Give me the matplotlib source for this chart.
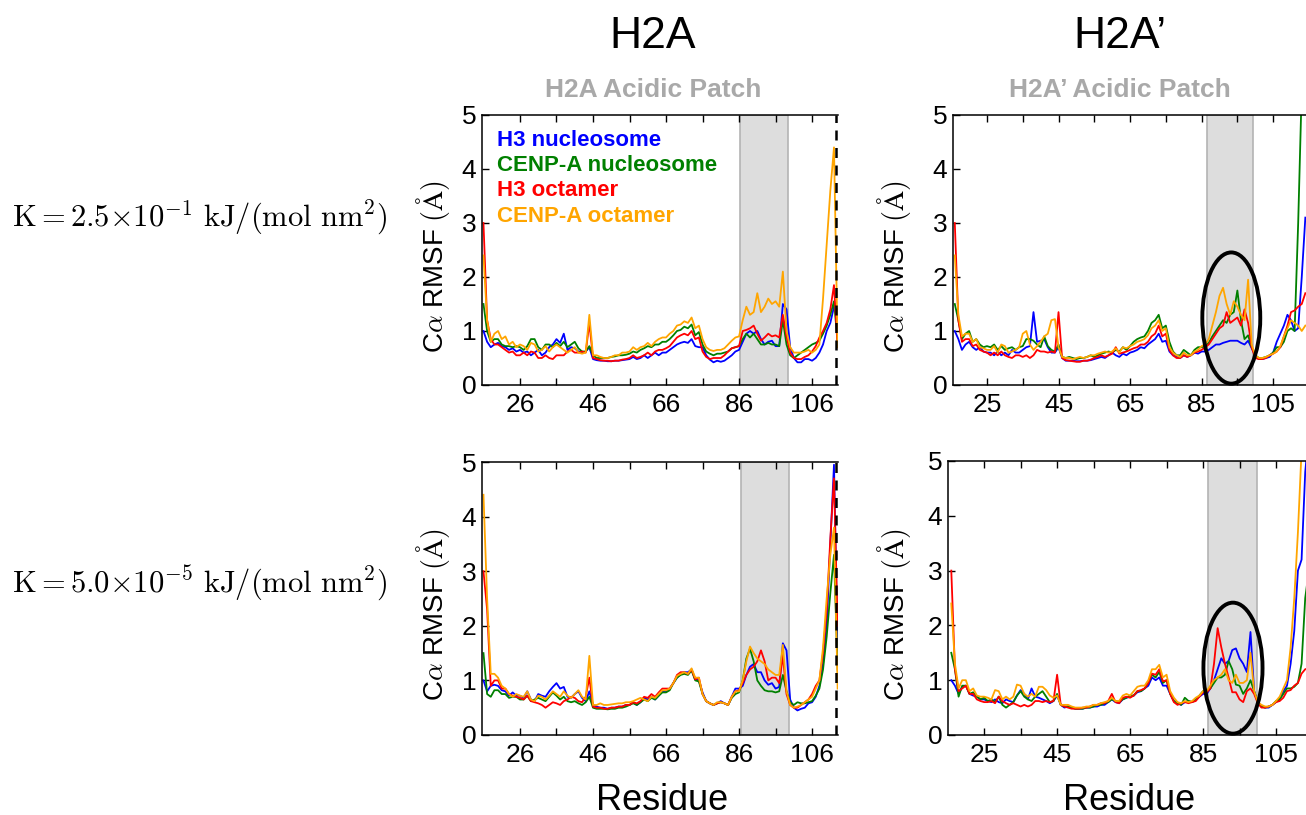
import matplotlib
matplotlib.use("Agg")
import matplotlib.pyplot as plt
from matplotlib.patches import Ellipse

plt.rcParams['font.family'] = ['Liberation Sans', 'DejaVu Sans']
plt.rcParams['mathtext.fontset'] = 'cm'

# residue numbers
res_h2a = list(range(16, 114))    # 16..113
res_h2ap = list(range(16, 115))   # 16..114

series_names = ["H3 nucleosome", "CENP-A nucleosome", "H3 octamer", "CENP-A octamer"]
series_colors = ["#0000ff", "#008000", "#ff0000", "#ffa500"]

# ---- H2A, K = 2.5e-1 ----
h2a_k1_h3nuc = [1.0, 0.8, 0.7, 0.75, 0.78, 0.72, 0.7, 0.65, 0.68, 0.62,
                0.65, 0.6, 0.62, 0.55, 0.6, 0.65, 0.55, 0.6, 0.7, 0.75,
                0.85, 0.78, 0.95, 0.65, 0.7, 0.68, 0.62, 0.6, 0.62, 0.7,
                0.48, 0.46, 0.45, 0.45, 0.44, 0.44, 0.45, 0.45, 0.46, 0.47,
                0.48, 0.52, 0.48, 0.5, 0.55, 0.5, 0.55, 0.6, 0.55, 0.6,
                0.6, 0.65, 0.7, 0.75, 0.78, 0.8, 0.78, 0.85, 0.72, 0.7,
                0.7, 0.55, 0.47, 0.42, 0.45, 0.43, 0.45, 0.5, 0.55, 0.62,
                0.65, 0.8, 0.95, 1.0, 0.95, 1.0, 0.85, 0.75, 0.8, 0.82,
                0.72, 0.72, 1.5, 1.4, 0.7, 0.5, 0.42, 0.42, 0.48, 0.48,
                0.45, 0.5, 0.6, 0.75, 1.0, 1.15, 1.45, 1.4]
h2a_k1_cenpnuc = [1.5, 1.0, 0.8, 0.85, 0.85, 0.75, 0.72, 0.72, 0.7, 0.72,
                  0.7, 0.65, 0.72, 0.85, 0.85, 0.7, 0.65, 0.75, 0.75, 0.7,
                  0.78, 0.72, 0.8, 0.7, 0.75, 0.8, 0.68, 0.62, 0.62, 0.72,
                  0.55, 0.5, 0.5, 0.5, 0.5, 0.52, 0.53, 0.55, 0.55, 0.56,
                  0.58, 0.62, 0.6, 0.65, 0.68, 0.72, 0.7, 0.75, 0.75, 0.8,
                  0.8, 0.85, 0.92, 1.0, 1.02, 1.08, 1.05, 1.12, 0.92, 0.98,
                  0.75, 0.62, 0.58, 0.55, 0.58, 0.58, 0.6, 0.62, 0.68, 0.7,
                  0.72, 0.85, 0.95, 0.88, 0.95, 0.85, 0.75, 0.75, 0.78, 0.75,
                  0.75, 0.72, 1.2, 0.75, 0.55, 0.5, 0.55, 0.6, 0.65, 0.7,
                  0.75, 0.78, 0.82, 0.95, 1.1, 1.3, 1.55, 0.8]
h2a_k1_h3oct = [3.0, 1.2, 0.85, 0.75, 0.75, 0.7, 0.65, 0.6, 0.62, 0.55,
                0.55, 0.6, 0.55, 0.62, 0.6, 0.5, 0.5, 0.55, 0.5, 0.48,
                0.55, 0.55, 0.55, 0.62, 0.65, 0.6, 0.6, 0.62, 0.6, 1.15,
                0.5, 0.48, 0.46, 0.45, 0.45, 0.44, 0.45, 0.45, 0.47, 0.48,
                0.5, 0.55, 0.5, 0.52, 0.55, 0.6, 0.55, 0.62, 0.65, 0.65,
                0.68, 0.72, 0.8, 0.88, 0.92, 0.95, 0.92, 1.0, 0.85, 0.88,
                0.62, 0.52, 0.48, 0.5, 0.5, 0.5, 0.55, 0.62, 0.68, 0.7,
                0.72, 1.0, 1.02, 1.05, 1.1, 0.95, 0.82, 0.88, 0.95, 0.9,
                0.92, 0.88, 1.3, 0.9, 0.6, 0.5, 0.48, 0.48, 0.52, 0.55,
                0.62, 0.72, 0.88, 1.0, 1.15, 1.4, 1.85, 0.7]
h2a_k1_cenpoct = [2.4, 1.2, 0.8, 0.95, 1.0, 0.85, 0.9, 0.75, 0.8, 0.7,
                  0.75, 0.72, 0.65, 0.78, 0.75, 0.62, 0.65, 0.72, 0.62, 0.7,
                  0.75, 0.7, 0.65, 0.6, 0.65, 0.7, 0.6, 0.58, 0.6, 1.3,
                  0.55, 0.55, 0.52, 0.5, 0.5, 0.52, 0.55, 0.55, 0.6, 0.6,
                  0.62, 0.7, 0.65, 0.7, 0.72, 0.78, 0.72, 0.8, 0.85, 0.88,
                  0.88, 0.95, 1.0, 1.1, 1.12, 1.18, 1.15, 1.25, 1.05, 1.1,
                  0.85, 0.7, 0.65, 0.63, 0.65, 0.65, 0.68, 0.75, 0.82, 0.88,
                  0.9, 1.2, 1.45, 1.3, 1.35, 1.7, 1.35, 1.45, 1.6, 1.5,
                  1.55, 1.45, 2.1, 1.0, 0.7, 0.6, 0.6, 0.6, 0.62, 0.65,
                  0.6, 0.65, 0.75, 1.6, 2.6, 3.6, 4.4, 0.7]

# ---- H2A', K = 2.5e-1 ----
h2ap_k1_h3nuc = [1.0, 0.85, 0.65, 0.75, 0.8, 0.7, 0.65, 0.7, 0.62, 0.6,
                 0.6, 0.55, 0.62, 0.55, 0.6, 0.55, 0.65, 0.6, 0.6, 0.65,
                 0.7, 0.72, 1.35, 0.8, 0.82, 0.85, 0.7, 0.6, 0.6, 0.7,
                 0.5, 0.45, 0.45, 0.45, 0.44, 0.44, 0.45, 0.45, 0.46, 0.48,
                 0.5, 0.52, 0.5, 0.55, 0.6, 0.55, 0.52, 0.58, 0.55, 0.6,
                 0.62, 0.65, 0.7, 0.68, 0.75, 0.8, 0.85, 0.95, 0.8, 0.82,
                 0.62, 0.55, 0.52, 0.5, 0.55, 0.52, 0.55, 0.6, 0.58, 0.62,
                 0.62, 0.65, 0.7, 0.75, 0.75, 0.78, 0.8, 0.82, 0.82, 0.82,
                 0.78, 0.75, 0.82, 0.68, 0.55, 0.48, 0.48, 0.5, 0.52, 0.6,
                 0.8, 0.95, 1.1, 1.3, 1.2, 1.0, 1.05, 2.0, 3.1]
h2ap_k1_cenpnuc = [1.5, 1.2, 0.85, 0.95, 1.0, 0.8, 0.85, 0.75, 0.7, 0.72,
                   0.7, 0.75, 0.65, 0.72, 0.65, 0.68, 0.7, 0.65, 0.7, 0.72,
                   0.85, 0.85, 0.82, 0.75, 0.7, 0.9, 0.72, 0.65, 0.62, 0.75,
                   0.52, 0.5, 0.52, 0.5, 0.48, 0.5, 0.5, 0.52, 0.55, 0.52,
                   0.55, 0.58, 0.6, 0.62, 0.6, 0.65, 0.62, 0.7, 0.65, 0.72,
                   0.8, 0.85, 0.88, 0.9, 1.0, 1.15, 1.2, 1.3, 1.05, 1.1,
                   0.8, 0.62, 0.55, 0.55, 0.65, 0.6, 0.55, 0.65, 0.7, 0.7,
                   0.72, 0.78, 0.9, 1.0, 1.1, 1.2, 1.15, 1.3, 1.35, 1.75,
                   1.2, 0.85, 0.92, 0.7, 0.55, 0.5, 0.5, 0.52, 0.55, 0.6,
                   0.7, 0.7, 0.8, 1.0, 1.05, 1.0, 3.0, 5.5, 6.0]
h2ap_k1_h3oct = [3.0, 1.2, 0.8, 0.85, 0.85, 0.72, 0.75, 0.65, 0.62, 0.6,
                 0.55, 0.6, 0.55, 0.62, 0.55, 0.52, 0.5, 0.55, 0.55, 0.52,
                 0.55, 0.5, 0.55, 0.65, 0.62, 0.62, 0.6, 0.62, 0.6, 1.35,
                 0.5, 0.46, 0.45, 0.44, 0.43, 0.43, 0.45, 0.45, 0.47, 0.5,
                 0.52, 0.55, 0.52, 0.55, 0.58, 0.7, 0.58, 0.6, 0.62, 0.65,
                 0.68, 0.7, 0.75, 0.75, 0.8, 0.9, 0.95, 1.1, 0.9, 0.95,
                 0.65, 0.55, 0.5, 0.5, 0.55, 0.52, 0.55, 0.6, 0.62, 0.65,
                 0.7, 0.75, 0.85, 0.95, 1.05, 1.1, 1.35, 1.15, 1.2, 1.25,
                 1.1, 1.4, 1.15, 0.7, 0.5, 0.48, 0.48, 0.5, 0.55, 0.58,
                 0.62, 0.7, 0.9, 1.1, 1.35, 1.38, 1.45, 1.5, 1.7]
h2ap_k1_cenpoct = [2.4, 1.3, 0.9, 0.95, 0.95, 0.8, 0.85, 0.7, 0.68, 0.65,
                   0.65, 0.72, 0.6, 0.75, 0.72, 0.6, 0.62, 0.65, 0.7, 0.95,
                   1.0, 0.75, 0.65, 0.72, 0.8, 0.9, 0.95, 1.2, 1.22, 0.7,
                   0.52, 0.5, 0.5, 0.48, 0.5, 0.52, 0.5, 0.52, 0.55, 0.55,
                   0.58, 0.6, 0.62, 0.6, 0.62, 0.68, 0.6, 0.7, 0.68, 0.72,
                   0.75, 0.8, 0.82, 0.85, 0.92, 1.05, 1.1, 1.2, 1.0, 1.05,
                   0.7, 0.6, 0.55, 0.52, 0.6, 0.55, 0.55, 0.62, 0.65, 0.72,
                   0.75, 0.85, 1.1, 1.35, 1.65, 1.8, 1.5, 1.3, 1.55, 1.45,
                   1.3, 1.2, 1.95, 0.75, 0.55, 0.5, 0.5, 0.52, 0.55, 0.58,
                   0.62, 0.72, 0.9, 1.05, 1.2, 1.15, 1.1, 1.0, 1.1]

# ---- H2A, K = 5.0e-5 ----
h2a_k2_h3nuc = [1.0, 0.8, 0.9, 0.92, 0.9, 0.82, 0.8, 0.72, 0.78, 0.72,
                0.72, 0.68, 0.8, 0.65, 0.62, 0.75, 0.72, 0.7, 0.8, 0.88,
                0.95, 0.85, 0.88, 0.7, 0.68, 0.75, 0.8, 0.68, 0.62, 0.8,
                0.55, 0.52, 0.5, 0.5, 0.48, 0.5, 0.5, 0.52, 0.52, 0.55,
                0.55, 0.6, 0.55, 0.6, 0.68, 0.65, 0.7, 0.65, 0.72, 0.8,
                0.8, 0.85, 0.95, 1.05, 1.12, 1.15, 1.15, 1.2, 1.02, 1.0,
                0.78, 0.62, 0.58, 0.55, 0.58, 0.62, 0.58, 0.55, 0.7, 0.85,
                0.85, 0.9, 1.1, 1.25, 1.3, 1.15, 1.15, 1.0, 0.92, 0.95,
                0.85, 0.88, 1.68, 1.55, 0.65, 0.5, 0.45, 0.48, 0.5, 0.58,
                0.6, 0.7, 0.9, 1.3, 2.0, 3.5, 4.95, 1.5]
h2a_k2_cenpnuc = [1.5, 0.75, 0.7, 0.82, 0.82, 0.75, 0.75, 0.68, 0.7, 0.7,
                  0.65, 0.65, 0.72, 0.62, 0.65, 0.68, 0.65, 0.62, 0.7, 0.78,
                  0.72, 0.65, 0.7, 0.62, 0.6, 0.62, 0.58, 0.55, 0.6, 0.7,
                  0.5, 0.48, 0.48, 0.48, 0.47, 0.48, 0.48, 0.5, 0.5, 0.52,
                  0.55, 0.58, 0.55, 0.6, 0.65, 0.62, 0.68, 0.65, 0.72, 0.78,
                  0.78, 0.82, 0.95, 1.05, 1.1, 1.12, 1.1, 1.18, 1.0, 0.98,
                  0.75, 0.62, 0.58, 0.55, 0.58, 0.6, 0.58, 0.55, 0.68, 0.75,
                  0.78, 1.0, 1.4, 1.58, 1.35, 1.0, 0.9, 0.82, 0.8, 0.8,
                  0.78, 0.8, 1.1, 0.8, 0.6, 0.55, 0.6, 0.58, 0.58, 0.6,
                  0.62, 0.72, 0.85, 1.2, 1.8, 2.6, 3.3, 1.2]
h2a_k2_h3oct = [3.0, 2.3, 0.9, 1.0, 1.0, 0.85, 0.85, 0.75, 0.72, 0.7,
                0.68, 0.65, 0.72, 0.62, 0.6, 0.58, 0.55, 0.5, 0.55, 0.6,
                0.58, 0.55, 0.62, 0.65, 0.7, 0.68, 0.62, 0.6, 0.7, 1.05,
                0.52, 0.5, 0.5, 0.48, 0.48, 0.5, 0.5, 0.52, 0.52, 0.55,
                0.55, 0.6, 0.58, 0.62, 0.7, 0.68, 0.75, 0.7, 0.78, 0.85,
                0.85, 0.85, 0.95, 1.1, 1.15, 1.15, 1.12, 1.2, 1.02, 1.05,
                0.75, 0.62, 0.58, 0.55, 0.58, 0.6, 0.58, 0.55, 0.7, 0.8,
                0.82, 0.95, 1.1, 1.2, 1.25, 1.35, 1.55, 1.35, 1.0, 1.05,
                1.05, 0.95, 1.45, 0.75, 0.55, 0.5, 0.5, 0.55, 0.6, 0.65,
                0.75, 0.9, 1.0, 1.5, 2.3, 3.6, 4.7, 2.0]
h2a_k2_cenpoct = [4.4, 2.5, 1.12, 1.12, 1.05, 0.9, 0.85, 0.75, 0.7, 0.75,
                  0.72, 0.7, 0.8, 0.65, 0.62, 0.72, 0.7, 0.65, 0.72, 0.8,
                  0.75, 0.7, 0.8, 0.72, 0.68, 0.75, 0.82, 0.7, 0.65, 1.45,
                  0.55, 0.55, 0.58, 0.55, 0.55, 0.56, 0.57, 0.58, 0.58, 0.6,
                  0.6, 0.62, 0.65, 0.68, 0.65, 0.62, 0.7, 0.68, 0.75, 0.82,
                  0.82, 0.85, 0.95, 1.08, 1.12, 1.15, 1.12, 1.22, 1.05, 1.05,
                  0.75, 0.62, 0.58, 0.55, 0.6, 0.6, 0.58, 0.55, 0.7, 0.8,
                  0.8, 1.0, 1.35, 1.62, 1.5, 1.4, 1.35, 1.3, 1.2, 1.15,
                  1.1, 1.1, 1.65, 0.8, 0.55, 0.5, 0.52, 0.55, 0.6, 0.65,
                  0.7, 0.85, 1.0, 1.6, 2.5, 3.3, 3.8, 0.85]

# ---- H2A', K = 5.0e-5 ----
h2ap_k2_h3nuc = [1.0, 0.9, 0.75, 0.88, 0.9, 0.75, 0.72, 0.7, 0.65, 0.65,
                 0.62, 0.6, 0.65, 0.6, 0.58, 0.65, 0.62, 0.6, 0.72, 0.82,
                 0.75, 0.65, 0.85, 0.7, 0.68, 0.65, 0.62, 0.58, 0.62, 0.72,
                 0.55, 0.5, 0.52, 0.5, 0.48, 0.48, 0.48, 0.5, 0.5, 0.52,
                 0.52, 0.55, 0.55, 0.6, 0.65, 0.6, 0.58, 0.65, 0.68, 0.7,
                 0.72, 0.78, 0.8, 0.85, 0.9, 1.05, 1.0, 1.05, 0.9, 0.9,
                 0.75, 0.62, 0.58, 0.55, 0.6, 0.62, 0.6, 0.65, 0.7, 0.75,
                 0.75, 0.85, 1.0, 1.2, 1.4, 1.3, 1.35, 1.55, 1.58, 1.4,
                 1.3, 1.15, 1.88, 0.8, 0.6, 0.52, 0.5, 0.5, 0.55, 0.6,
                 0.65, 0.8, 0.9, 1.3, 1.9, 3.0, 3.2, 4.8, 5.5]
h2ap_k2_cenpnuc = [1.5, 1.2, 0.7, 0.9, 0.9, 0.75, 0.78, 0.7, 0.65, 0.68,
                   0.62, 0.65, 0.6, 0.7, 0.55, 0.5, 0.55, 0.6, 0.72, 0.8,
                   0.7, 0.65, 0.62, 0.7, 0.75, 0.8, 0.7, 0.6, 0.62, 0.75,
                   0.55, 0.52, 0.52, 0.5, 0.48, 0.48, 0.48, 0.5, 0.5, 0.52,
                   0.55, 0.55, 0.58, 0.6, 0.65, 0.62, 0.6, 0.65, 0.68, 0.72,
                   0.72, 0.8, 0.8, 0.85, 0.95, 1.1, 1.05, 1.15, 0.95, 1.0,
                   0.75, 0.62, 0.58, 0.55, 0.68, 0.62, 0.6, 0.65, 0.72, 0.8,
                   0.8, 0.85, 0.95, 1.05, 1.05, 1.1, 1.35, 1.2, 0.92, 0.9,
                   0.75, 0.85, 1.0, 0.8, 0.6, 0.52, 0.5, 0.52, 0.55, 0.62,
                   0.65, 0.75, 0.85, 0.85, 0.88, 0.95, 1.3, 2.5, 3.0]
h2ap_k2_h3oct = [3.0, 1.2, 0.8, 0.85, 0.9, 0.75, 0.75, 0.65, 0.62, 0.6,
                 0.6, 0.62, 0.58, 0.7, 0.62, 0.58, 0.55, 0.58, 0.55, 0.52,
                 0.55, 0.52, 0.55, 0.62, 0.62, 0.6, 0.62, 0.6, 0.62, 1.1,
                 0.55, 0.52, 0.5, 0.48, 0.48, 0.48, 0.5, 0.5, 0.52, 0.55,
                 0.55, 0.58, 0.58, 0.62, 0.75, 0.6, 0.58, 0.68, 0.7, 0.68,
                 0.72, 0.8, 0.82, 0.85, 0.95, 1.12, 1.1, 1.2, 0.98, 1.0,
                 0.75, 0.6, 0.55, 0.58, 0.6, 0.58, 0.6, 0.62, 0.7, 0.78,
                 0.78, 0.85, 1.3, 1.95, 1.6, 1.3, 1.05, 0.78, 0.78, 0.65,
                 0.6, 0.8, 0.85, 0.75, 0.58, 0.5, 0.5, 0.52, 0.55, 0.6,
                 0.62, 0.68, 0.8, 0.82, 0.9, 0.95, 1.12, 1.2, 1.22]
h2ap_k2_cenpoct = [2.4, 1.3, 0.85, 1.0, 1.0, 0.8, 0.85, 0.72, 0.7, 0.7,
                   0.68, 0.65, 0.82, 0.8, 0.65, 0.7, 0.65, 0.7, 0.92, 0.9,
                   0.75, 0.7, 0.75, 0.7, 0.88, 0.88, 0.82, 0.72, 0.68, 0.72,
                   0.55, 0.55, 0.55, 0.52, 0.5, 0.5, 0.5, 0.52, 0.52, 0.55,
                   0.55, 0.58, 0.6, 0.62, 0.68, 0.62, 0.62, 0.72, 0.75, 0.72,
                   0.8, 0.88, 0.9, 0.9, 1.0, 1.2, 1.2, 1.28, 1.05, 1.1,
                   0.8, 0.68, 0.6, 0.58, 0.62, 0.6, 0.62, 0.68, 0.72, 0.8,
                   0.8, 0.9, 1.0, 1.05, 1.1, 1.2, 1.0, 0.95, 1.1, 0.95,
                   0.95, 1.0, 1.5, 0.8, 0.6, 0.55, 0.52, 0.52, 0.55, 0.62,
                   0.7, 0.85, 1.0, 1.6, 2.5, 3.7, 5.2, 6.0, 6.0]

k_labels = [r'$\mathrm{K} = 2.5{\times}10^{-1}\ \mathrm{kJ/(mol\ nm^2)}$',
            r'$\mathrm{K} = 5.0{\times}10^{-5}\ \mathrm{kJ/(mol\ nm^2)}$']
col_titles = ["H2A", "H2A\u2019"]
patch_titles = ["H2A Acidic Patch", "H2A\u2019 Acidic Patch"]
ticks_h2a = [26, 46, 66, 86, 106]
ticks_h2ap = [25, 45, 65, 85, 105]

W, H = 1306, 815


def box(left, top, right, bottom):
    # pixel box -> figure fraction rect
    return [left / W, 1 - bottom / H, (right - left) / W, (bottom - top) / H]


fig = plt.figure(figsize=(W / 100, H / 100), dpi=100)

panels = [
    # rect, xlim, residues, data, ticks, span, ellipse, dashed
    (box(482, 115, 838, 385), (15.6, 113.1), res_h2a,
     [h2a_k1_h3nuc, h2a_k1_cenpnuc, h2a_k1_h3oct, h2a_k1_cenpoct],
     ticks_h2a, (86.3, 99.4), None, 112.5),
    (box(953, 115, 1320, 385), (15.5, 118.1), res_h2ap,
     [h2ap_k1_h3nuc, h2ap_k1_cenpnuc, h2ap_k1_h3oct, h2ap_k1_cenpoct],
     ticks_h2ap, (86.5, 99.4), (93.3, 1.24, 16.2, 2.43), None),
    (box(482, 462, 838, 735), (15.6, 113.1), res_h2a,
     [h2a_k2_h3nuc, h2a_k2_cenpnuc, h2a_k2_h3oct, h2a_k2_cenpoct],
     ticks_h2a, (86.5, 99.6), None, 112.6),
    (box(948, 461, 1320, 735), (15.1, 117.05), res_h2ap,
     [h2ap_k2_h3nuc, h2ap_k2_cenpnuc, h2ap_k2_h3oct, h2ap_k2_cenpoct],
     ticks_h2ap, (86.4, 99.8), (93.2, 1.22, 16.2, 2.39), None),
]

ylabel_x = [-0.085, -0.11, -0.085, -0.095]

for i, (rect, xlim, res, data, ticks, span, ell, dash) in enumerate(panels):
    ax = fig.add_axes(rect)
    ax.axvspan(span[0], span[1], facecolor='#dddddd', edgecolor='#b4b4b4',
               lw=1.2, zorder=0)
    for vals, c in zip(data, series_colors):
        ax.plot(res, vals, color=c, lw=1.3, zorder=2)
    if dash is not None:
        ax.axvline(dash, color='k', lw=1.8, ls=(0, (4, 3)), zorder=3)
    if ell is not None:
        e = Ellipse((ell[0], ell[1]), ell[2], ell[3], fill=False,
                    edgecolor='k', lw=2.8, zorder=4, clip_on=False)
        ax.add_patch(e)
    ax.set_xticks(ticks)
    ax.set_xticks([t + 10 for t in ticks if t + 10 < xlim[1]], minor=True)
    ax.set_yticks([0, 1, 2, 3, 4, 5])
    ax.set_xlim(*xlim)
    ax.set_ylim(0, 5)
    ax.tick_params(axis='both', which='both', direction='in', length=5,
                   width=1, labelsize=19, top=True)
    ax.tick_params(axis='x', pad=6)
    ax.tick_params(axis='y', pad=4)
    for s in ax.spines.values():
        s.set_linewidth(1.1)
    ax.spines['right'].set_visible(False)
    ax.set_ylabel('C$\\alpha$ RMSF $(\\mathrm{\\AA})$', fontsize=20)
    ax.yaxis.set_label_coords(ylabel_x[i], 0.44)

# legend text in top-left panel
for k, (name, c) in enumerate(zip(series_names, series_colors)):
    fig.text(497 / W, 1 - (140 + 25.5 * k) / H, name, color=c,
             fontsize=16, fontweight='bold', va='center', ha='left')

# column titles
for xc, t, pt in zip([653, 1120], col_titles, patch_titles):
    fig.text(xc / W, 1 - 36 / H, t, fontsize=32, ha='center', va='center')
    fig.text(xc / W, 1 - 90 / H, pt, fontsize=19, fontweight='bold',
             color='#a9a9a9', ha='center', va='center')
    fig.text(xc / W + 0.007, 1 - 800 / H, "Residue", fontsize=26,
             ha='center', va='center')

# row labels
for yc, lab in zip([218, 583], k_labels):
    fig.text(12 / W, 1 - yc / H, lab, fontsize=22, ha='left', va='center')

fig.savefig("out.png", dpi=100)
